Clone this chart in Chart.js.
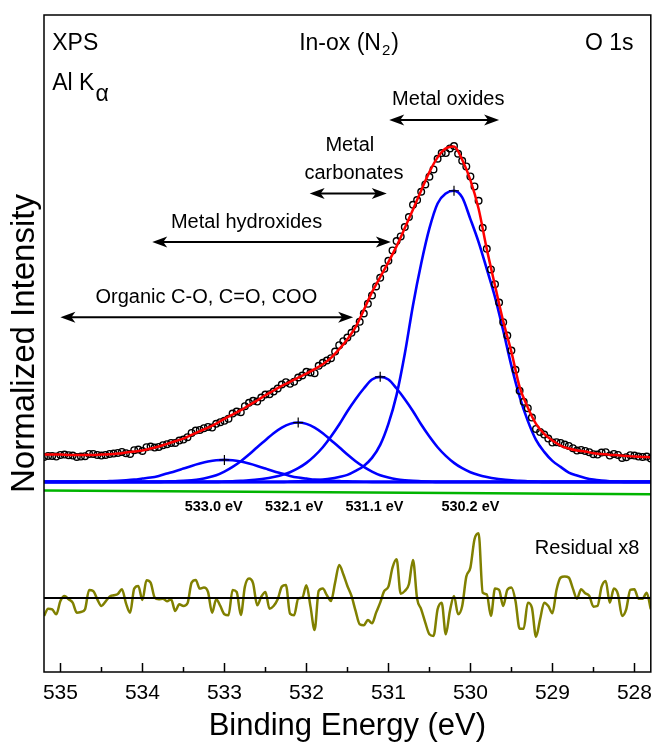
<!DOCTYPE html>
<html>
<head>
<meta charset="utf-8">
<script src="https://cdn.jsdelivr.net/npm/chart.js@4.4.1/dist/chart.umd.min.js"></script>
<style>
  html, body { margin: 0; padding: 0; background: #fff; }
  #wrap { width: 657px; height: 745px; }
</style>
</head>
<body>
<div id="wrap"><canvas id="xps" width="657" height="745"></canvas></div>
<script>
// measured O 1s points (binding energy in eV, 0.05 eV steps)
const energy = [
  535.2, 535.15, 535.1, 535.05,
  535.0, 534.95, 534.9, 534.85, 534.8, 534.75, 534.7, 534.65, 534.6, 534.55, 534.5, 534.45, 534.4, 534.35, 534.3, 534.25, 534.2, 534.15, 534.1, 534.05,
  534.0, 533.95, 533.9, 533.85, 533.8, 533.75, 533.7, 533.65, 533.6, 533.55, 533.5, 533.45, 533.4, 533.35, 533.3, 533.25, 533.2, 533.15, 533.1, 533.05,
  533.0, 532.95, 532.9, 532.85, 532.8, 532.75, 532.7, 532.65, 532.6, 532.55, 532.5, 532.45, 532.4, 532.35, 532.3, 532.25, 532.2, 532.15, 532.1, 532.05,
  532.0, 531.95, 531.9, 531.85, 531.8, 531.75, 531.7, 531.65, 531.6, 531.55, 531.5, 531.45, 531.4, 531.35, 531.3, 531.25, 531.2, 531.15, 531.1, 531.05,
  531.0, 530.95, 530.9, 530.85, 530.8, 530.75, 530.7, 530.65, 530.6, 530.55, 530.5, 530.45, 530.4, 530.35, 530.3, 530.25, 530.2, 530.15, 530.1, 530.05,
  530.0, 529.95, 529.9, 529.85, 529.8, 529.75, 529.7, 529.65, 529.6, 529.55, 529.5, 529.45, 529.4, 529.35, 529.3, 529.25, 529.2, 529.15, 529.1, 529.05,
  529.0, 528.95, 528.9, 528.85, 528.8, 528.75, 528.7, 528.65, 528.6, 528.55, 528.5, 528.45, 528.4, 528.35, 528.3, 528.25, 528.2, 528.15, 528.1, 528.05,
  528.0, 527.95, 527.9, 527.85, 527.8
];
const intensity = [
  0.75, 0.78, 0.78, 0.76, 0.81, 0.82, 0.80, 0.79, 0.75, 0.76,
  0.77, 0.84, 0.84, 0.81, 0.79, 0.81, 0.84, 0.85, 0.87, 0.90,
  0.86, 0.84, 0.95, 0.97, 0.93, 1.04, 1.06, 1.03, 1.05, 1.10,
  1.13, 1.17, 1.17, 1.24, 1.27, 1.34, 1.47, 1.54, 1.56, 1.61,
  1.65, 1.63, 1.74, 1.79, 1.83, 1.89, 2.05, 2.11, 2.09, 2.27,
  2.37, 2.43, 2.41, 2.53, 2.62, 2.63, 2.71, 2.80, 2.92, 2.99,
  2.94, 3.00, 3.13, 3.19, 3.30, 3.28, 3.26, 3.48, 3.57, 3.64,
  3.71, 3.91, 4.10, 4.22, 4.33, 4.47, 4.59, 4.80, 5.05, 5.34,
  5.59, 5.86, 6.12, 6.39, 6.63, 6.94, 7.22, 7.36, 7.64, 7.94,
  8.31, 8.45, 8.70, 8.92, 9.15, 9.37, 9.69, 9.86, 9.86, 10.00,
  10.07, 9.84, 9.63, 9.46, 9.16, 8.86, 8.43, 7.62, 6.99, 6.37,
  5.93, 5.38, 4.79, 4.39, 3.94, 3.36, 2.73, 2.40, 2.21, 1.93,
  1.59, 1.50, 1.42, 1.30, 1.18, 1.19, 1.17, 1.12, 1.08, 1.01,
  0.94, 0.96, 0.93, 0.89, 0.83, 0.82, 0.88, 0.89, 0.79, 0.84,
  0.81, 0.72, 0.74, 0.80, 0.79, 0.76, 0.75, 0.76, 0.70
];
// residual (already multiplied by 8)
const residual = [
  -0.54, -0.32, -0.34, -0.49, -0.09, 0.06, -0.04, -0.14, -0.44, -0.42,
  -0.34, 0.24, 0.21, -0.04, -0.24, -0.11, 0.04, 0.08, 0.12, 0.26,
  -0.16, -0.44, 0.28, 0.36, -0.06, 0.53, 0.46, 0.01, -0.04, -0.02,
  -0.10, -0.04, -0.39, -0.19, -0.24, -0.16, 0.46, 0.54, 0.28, 0.31,
  0.18, -0.44, -0.04, -0.24, -0.49, -0.52, 0.24, 0.18, -0.51, 0.34,
  0.58, 0.44, -0.22, 0.04, 0.18, -0.32, -0.24, -0.04, 0.34, 0.39,
  -0.47, -0.52, -0.02, 0.01, 0.38, -0.26, -0.96, 0.21, 0.28, 0.08,
  -0.09, 0.46, 0.99, 0.71, 0.36, 0.06, -0.39, -0.79, -0.82, -0.66,
  -0.76, -0.44, -0.14, 0.21, 0.34, 0.91, 1.16, 0.13, 0.21, 0.41,
  1.14, -0.02, -0.34, -0.74, -1.09, -1.14, -0.34, -0.14, -1.09, -0.39,
  0.06, -0.49, -0.24, 0.64, 0.91, 1.76, 1.94, 0.16, 0.11, -0.54,
  0.28, 0.24, -0.24, 0.24, 0.31, -0.09, -0.92, -0.92, -0.14, -0.29,
  -1.16, -0.64, -0.14, -0.24, -0.46, 0.24, 0.61, 0.64, 0.61, 0.28,
  -0.02, 0.26, 0.14, 0.06, -0.26, -0.24, 0.34, 0.51, -0.14, 0.28,
  0.11, -0.54, -0.34, 0.24, 0.26, -0.02, -0.02, 0.16, -0.34
];
const residualOffset = -3.48;

// fit envelope and components (0.1 eV steps)
const fitEnergy = [
  535.2, 535.1, 535.0, 534.9, 534.8, 534.7, 534.6, 534.5, 534.4, 534.3,
  534.2, 534.1, 534.0, 533.9, 533.8, 533.7, 533.6, 533.5, 533.4, 533.3,
  533.2, 533.1, 533.0, 532.9, 532.8, 532.7, 532.6, 532.5, 532.4, 532.3,
  532.2, 532.1, 532.0, 531.9, 531.8, 531.7, 531.6, 531.5, 531.4, 531.3,
  531.2, 531.1, 531.0, 530.9, 530.8, 530.7, 530.6, 530.5, 530.4, 530.3,
  530.2, 530.1, 530.0, 529.9, 529.8, 529.7, 529.6, 529.5, 529.4, 529.3,
  529.2, 529.1, 529.0, 528.9, 528.8, 528.7, 528.6, 528.5, 528.4, 528.3,
  528.2, 528.1, 528.0, 527.9, 527.8
];
const fitEnvelope = [
  0.82, 0.82, 0.82, 0.81, 0.81, 0.81, 0.81, 0.82, 0.83, 0.85,
  0.88, 0.91, 0.94, 1.00, 1.06, 1.14, 1.22, 1.30, 1.41, 1.52,
  1.63, 1.75, 1.89, 2.02, 2.15, 2.30, 2.44, 2.60, 2.74, 2.88,
  3.00, 3.13, 3.25, 3.38, 3.53, 3.72, 3.98, 4.28, 4.64, 5.15,
  5.69, 6.14, 6.59, 7.07, 7.61, 8.17, 8.74, 9.29, 9.73, 10.00,
  10.06, 9.66, 9.05, 8.19, 6.98, 5.89, 4.82, 3.90, 2.85, 2.23,
  1.74, 1.44, 1.24, 1.09, 1.00, 0.94, 0.91, 0.86, 0.84, 0.81,
  0.80, 0.78, 0.76, 0.75, 0.74
];
const peak533 = [
  0, 0, 0, 0, 0, 0.005, 0.01, 0.015, 0.025, 0.035,
  0.05, 0.07, 0.10, 0.13, 0.18, 0.25, 0.32, 0.40, 0.48, 0.55,
  0.61, 0.65, 0.66, 0.65, 0.61, 0.55, 0.48, 0.40, 0.32, 0.25,
  0.18, 0.13, 0.10, 0.07, 0.05, 0.035, 0.025, 0.015, 0.01, 0.005,
  0, 0, 0, 0, 0, 0, 0, 0, 0, 0,
  0, 0, 0, 0, 0, 0, 0, 0, 0, 0,
  0, 0, 0, 0, 0, 0, 0, 0, 0, 0,
  0, 0, 0, 0, 0
];
const peak532 = [
  0, 0, 0, 0, 0, 0, 0, 0, 0, 0,
  0, 0, 0, 0, 0, 0.01, 0.02, 0.03, 0.05, 0.08,
  0.13, 0.20, 0.31, 0.45, 0.62, 0.82, 1.04, 1.25, 1.46, 1.63,
  1.74, 1.78, 1.74, 1.63, 1.46, 1.25, 1.04, 0.82, 0.62, 0.45,
  0.31, 0.20, 0.13, 0.08, 0.05, 0.03, 0.02, 0.01, 0, 0,
  0, 0, 0, 0, 0, 0, 0, 0, 0, 0,
  0, 0, 0, 0, 0, 0, 0, 0, 0, 0,
  0, 0, 0, 0, 0
];
const peak531 = [
  0, 0, 0, 0, 0, 0, 0, 0, 0, 0,
  0, 0, 0, 0, 0, 0, 0, 0, 0, 0,
  0, 0, 0.01, 0.02, 0.03, 0.05, 0.07, 0.10, 0.15, 0.21,
  0.29, 0.41, 0.57, 0.78, 1.04, 1.36, 1.72, 2.12, 2.48, 2.80,
  3.07, 3.15, 3.07, 2.80, 2.48, 2.12, 1.72, 1.36, 1.04, 0.78,
  0.57, 0.41, 0.29, 0.21, 0.15, 0.10, 0.07, 0.05, 0.03, 0.02,
  0.01, 0, 0, 0, 0, 0, 0, 0, 0, 0,
  0, 0, 0, 0, 0
];
const peak530 = [
  0, 0, 0, 0, 0, 0, 0, 0, 0, 0,
  0, 0, 0, 0, 0, 0, 0, 0, 0, 0,
  0, 0, 0, 0, 0, 0, 0, 0, 0, 0,
  0.01, 0.02, 0.03, 0.05, 0.07, 0.10, 0.15, 0.21, 0.33, 0.48,
  0.72, 1.11, 1.74, 2.61, 3.84, 5.30, 6.55, 7.60, 8.35, 8.65,
  8.73, 8.53, 7.88, 7.19, 6.38, 5.54, 4.54, 3.48, 2.56, 1.83,
  1.26, 0.90, 0.63, 0.45, 0.28, 0.19, 0.12, 0.07, 0.04, 0.02,
  0.01, 0, 0, 0, 0
];

const peakCentres = [533.0, 532.1, 531.1, 530.2];
const peakHeights = [0.66, 1.78, 3.15, 8.73];
const peakNames = ['533.0 eV', '532.1 eV', '531.1 eV', '530.2 eV'];
const peakNameE = [533.13, 532.15, 531.17, 530.0];

const edgeEnergy = [535.2, 527.8];
const baseLevel = [0, 0];
const linearBg = [-0.26, -0.37];

const tickValues = [528, 529, 530, 531, 532, 533, 534, 535];
const minorTicks = [528.5, 529.5, 530.5, 531.5, 532.5, 533.5, 534.5];

// region arrows: from / to in eV, height in intensity units
const regionNames = ['Organic C-O, C=O, COO', 'Metal hydroxides', 'carbonates', 'Metal oxides'];
const regionTextE = [533.22, 532.73, 531.42, 530.27];
const regionTextI = [5.36, 7.61, 9.08, 11.30];
const arrowFrom = [535.0, 533.88, 531.96, 530.99];
const arrowTo = [531.43, 530.97, 531.02, 529.65];
const arrowAt = [4.94, 7.19, 8.65, 10.85];

const FONT = '"Liberation Sans", Arial, Helvetica, sans-serif';
const BLUE = '#0000ff';

function pts(xs, ys) {
    return xs.map((x, i) => ({ x: x, y: ys[i] }));
}

function line(data, color, width) {
    return { data: data, showLine: true, borderColor: color, borderWidth: width,
             pointRadius: 0, fill: false, cubicInterpolationMode: 'monotone' };
}

function arrowHead(ctx, x, y, dir) {
    ctx.beginPath();
    ctx.moveTo(x, y);
    ctx.lineTo(x + dir * 15, y - 5.5);
    ctx.lineTo(x + dir * 11, y);
    ctx.lineTo(x + dir * 15, y + 5.5);
    ctx.closePath();
    ctx.fill();
}

function text(ctx, str, x, y, font, align) {
    ctx.font = font;
    ctx.textAlign = align || 'center';
    ctx.textBaseline = 'alphabetic';
    ctx.fillText(str, x, y);
}

// frame, inward ticks, labels and arrows
const decorations = {
    id: 'decorations',
    afterDraw(chart) {
        const { ctx, chartArea: a, scales: { x, y } } = chart;
        ctx.save();
        ctx.strokeStyle = '#000';
        ctx.fillStyle = '#000';

        ctx.lineWidth = 1.5;
        ctx.strokeRect(a.left, a.top, a.right - a.left, a.bottom - a.top);

        tickValues.forEach(v => {
            const px = Math.round(x.getPixelForValue(v)) + 0.5;
            ctx.beginPath(); ctx.moveTo(px, a.bottom); ctx.lineTo(px, a.bottom - 9); ctx.stroke();
        });
        minorTicks.forEach(v => {
            const px = Math.round(x.getPixelForValue(v)) + 0.5;
            ctx.beginPath(); ctx.moveTo(px, a.bottom); ctx.lineTo(px, a.bottom - 5); ctx.stroke();
        });

        // header texts
        const big = '23px ' + FONT;
        text(ctx, 'XPS', x.getPixelForValue(535.1), y.getPixelForValue(12.95), big, 'left');
        text(ctx, 'Al K', x.getPixelForValue(535.1), y.getPixelForValue(11.75), big, 'left');
        ctx.font = big;
        const kx = x.getPixelForValue(535.1) + ctx.measureText('Al K').width;
        text(ctx, '\u03b1', kx + 1, y.getPixelForValue(11.42), big, 'left');

        ctx.font = big;
        const w1 = ctx.measureText('In-ox (N').width;
        const w3 = ctx.measureText(')').width;
        ctx.font = '15px ' + FONT;
        const w2 = ctx.measureText('2').width;
        const cx = x.getPixelForValue(531.48);
        const left = cx - (w1 + w2 + w3 + 2) / 2;
        const base = y.getPixelForValue(12.95);
        text(ctx, 'In-ox (N', left, base, big, 'left');
        text(ctx, '2', left + w1 + 1, base + 5, '15px ' + FONT, 'left');
        text(ctx, ')', left + w1 + w2 + 2, base, big, 'left');

        text(ctx, 'O 1s', x.getPixelForValue(528.01), base, big, 'right');

        // region annotations
        const mid = '20px ' + FONT;
        regionNames.forEach((name, i) => {
            text(ctx, name, x.getPixelForValue(regionTextE[i]), y.getPixelForValue(regionTextI[i]), mid);
        });
        text(ctx, 'Metal', x.getPixelForValue(531.47), y.getPixelForValue(9.92), mid);
        ctx.lineWidth = 2;
        arrowFrom.forEach((e, i) => {
            const x1 = x.getPixelForValue(e), x2 = x.getPixelForValue(arrowTo[i]);
            const py = y.getPixelForValue(arrowAt[i]);
            ctx.beginPath(); ctx.moveTo(x1 + 8, py); ctx.lineTo(x2 - 8, py); ctx.stroke();
            arrowHead(ctx, x1, py, 1);
            arrowHead(ctx, x2, py, -1);
        });

        // peak positions
        peakNames.forEach((name, i) => {
            text(ctx, name, x.getPixelForValue(peakNameE[i]), y.getPixelForValue(-0.87), 'bold 14.5px ' + FONT);
        });

        text(ctx, 'Residual x8', x.getPixelForValue(527.94), y.getPixelForValue(-2.16), mid, 'right');
        ctx.restore();
    }
};

new Chart(document.getElementById('xps'), {
    type: 'scatter',
    data: {
        datasets: [
            { data: pts(peakCentres, peakHeights), pointStyle: 'cross', pointRadius: 5,
              borderColor: '#000', borderWidth: 1.2 },
            line(pts(fitEnergy, fitEnvelope), '#ff0000', 2.5),
            { data: pts(energy, intensity), pointRadius: 3.3, borderWidth: 1.4,
              borderColor: '#000', backgroundColor: 'rgba(255,255,255,0)' },
            line(pts(fitEnergy, peak530), BLUE, 2.6),
            line(pts(fitEnergy, peak531), BLUE, 2.6),
            line(pts(fitEnergy, peak532), BLUE, 2.6),
            line(pts(fitEnergy, peak533), BLUE, 2.6),
            line(pts(edgeEnergy, baseLevel), BLUE, 3),
            line(pts(edgeEnergy, linearBg), '#00b400', 2.5),
            line(pts(edgeEnergy, baseLevel.map(v => v + residualOffset)), '#000', 2),
            line(pts(energy, residual.map(v => v + residualOffset)), '#808000', 2.5)
        ]
    },
    options: {
        responsive: false,
        animation: false,
        devicePixelRatio: 1,
        layout: { padding: { left: 0, top: 15, right: 2, bottom: 0 } },
        plugins: { legend: { display: false }, tooltip: { enabled: false } },
        scales: {
            x: {
                type: 'linear', reverse: true, min: 527.8, max: 535.2,
                grid: { display: false, drawTicks: false },
                border: { display: false },
                afterBuildTicks: s => { s.ticks = tickValues.map(v => ({ value: v })); },
                afterFit: s => { s.height = 73; },
                ticks: { color: '#000', font: { family: FONT, size: 21 }, padding: 9, maxRotation: 0 },
                title: { display: true, text: 'Binding Energy (eV)', color: '#000',
                         font: { family: FONT, size: 31 }, padding: { top: 0, bottom: 0 } }
            },
            y: {
                type: 'linear', min: -5.7, max: 14.0,
                grid: { display: false, drawTicks: false },
                border: { display: false },
                ticks: { display: false },
                afterFit: s => { s.width = 44; },
                title: { display: true, text: 'Normalized Intensity', color: '#000',
                         font: { family: FONT, size: 33 }, padding: { top: 5, bottom: 0 } }
            }
        }
    },
    plugins: [decorations]
});
</script>
</body>
</html>
